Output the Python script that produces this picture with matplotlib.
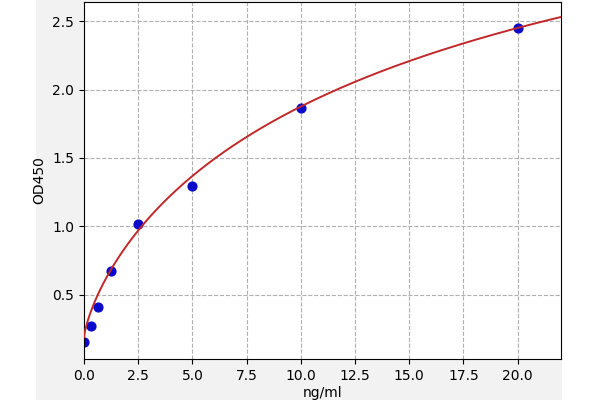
import numpy as np
import matplotlib
matplotlib.use("Agg")
import matplotlib.pyplot as plt
from matplotlib.patches import Rectangle

# Standard concentrations (ng/ml) and measured OD450
conc = [0, 0.3125, 0.625, 1.25, 2.5, 5, 10, 20]
od = [0.155, 0.270, 0.410, 0.675, 1.015, 1.297, 1.865, 2.450]
# Four-parameter logistic fit (a, b, c, d)
fit_a = 0.1895
fit_b = 0.7617
fit_c = 18.973
fit_d = 4.622
x_ticks = [0.0, 2.5, 5.0, 7.5, 10.0, 12.5, 15.0, 17.5, 20.0]
y_ticks = [0.5, 1.0, 1.5, 2.0, 2.5]


def four_pl(x):
    x = np.asarray(x, dtype=float)
    return fit_d + (fit_a - fit_d) / (1.0 + (x / fit_c) ** fit_b)


fig = plt.figure(figsize=(6, 4), dpi=100, facecolor="white")
fig.patches.append(Rectangle((36 / 600, 0), (562 - 36) / 600, 1,
                             transform=fig.transFigure, facecolor="#f2f2f2",
                             edgecolor="none", zorder=-10))
ax = fig.add_axes([84 / 600, 1 - 359 / 400, (561 - 84) / 600, (359 - 2) / 400])
ax.set_facecolor("white")

xs = np.linspace(0, 22, 500)
ax.scatter(conc, od, s=40, color="#0a0acc", zorder=2)
ax.plot(xs, four_pl(xs), color="#c0282a", lw=1.4, zorder=3)

ax.set_xlim(0, 22)
ax.set_ylim(0.03, 2.64)
ax.set_xticks(x_ticks)
ax.set_yticks(y_ticks)
ax.grid(True, linestyle="--", color="#b0b0b0", lw=0.8)
ax.set_axisbelow(True)
ax.set_xlabel("ng/ml", labelpad=2)
ax.set_ylabel("OD450")

fig.savefig("out.png", dpi=100, facecolor=fig.get_facecolor())
